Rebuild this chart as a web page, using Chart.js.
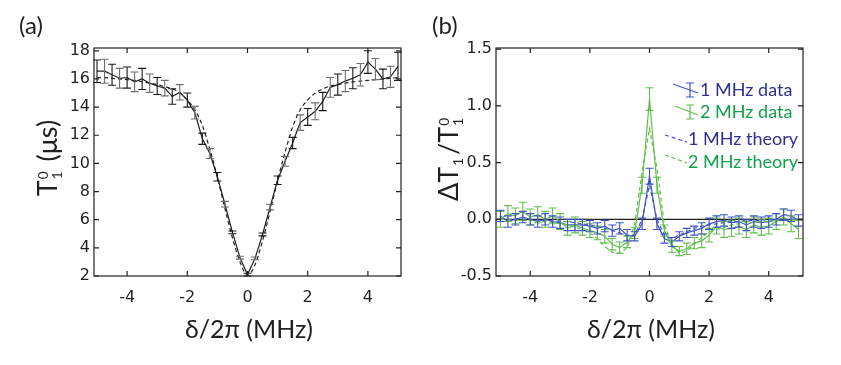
<!DOCTYPE html>
<html>
<head>
<meta charset="utf-8">
<script src="https://cdn.jsdelivr.net/npm/chart.js@4.4.1/dist/chart.umd.min.js"></script>
<style>
  body { margin: 0; background: #fff; width: 841px; height: 365px; position: relative; overflow: hidden; font-family: Lato, "Noto Sans", sans-serif; color: #231f20; }
  #boxA { position: absolute; left: 0; top: 0; width: 420px; height: 365px; }
  #boxB { position: absolute; left: 420px; top: 0; width: 421px; height: 365px; }
  .lbl { position: absolute; font-size: 24px; white-space: nowrap; }
  .xtitle { position: absolute; top: 313px; font-size: 25px; white-space: nowrap; transform: translateX(-50%); }
  .ytitle { position: absolute; font-size: 27px; white-space: nowrap; transform: translate(-50%, -50%) rotate(-90deg); }
  .ss { display: inline-block; vertical-align: -0.35em; font-size: 0.5em; line-height: 1.05; text-align: left; margin: 0 3px 0 1px; }
  .ss span { display: block; }
</style>
</head>
<body>
<div id="boxA"><canvas id="chartA"></canvas></div>
<div id="boxB"><canvas id="chartB"></canvas></div>

<div class="lbl" style="left:19px; top:10px">(a)</div>
<div class="lbl" style="left:432px; top:10px">(b)</div>
<div class="xtitle" style="left:249px">δ/2π (MHz)</div>
<div class="xtitle" style="left:651px">δ/2π (MHz)</div>
<div class="ytitle" style="left:47px; top:158px">T<span class="ss"><span>0</span><span>1</span></span> (μs)</div>
<div class="ytitle" style="left:448px; top:158px">ΔT<span class="ss"><span>&nbsp;</span><span>1</span></span>/T<span class="ss"><span>0</span><span>1</span></span></div>

<script>
// detuning grid (MHz), shared by both panels
var freq = [-5, -4.75, -4.5, -4.25, -4, -3.75, -3.5, -3.25, -3, -2.75, -2.5, -2.25, -2, -1.75, -1.5, -1.25, -1, -0.75, -0.5, -0.25,
            0, 0.25, 0.5, 0.75, 1, 1.25, 1.5, 1.75, 2, 2.25, 2.5, 2.75, 3, 3.25, 3.5, 3.75, 4, 4.25, 4.5, 4.75, 5];

// (a) T1^0 in us
var t1Data = [16.55, 16.55, 16.3, 16.05, 16.1, 15.8, 16.0, 15.7, 15.5, 15.35, 14.75, 15.05, 14.5, 13.6, 11.75, 10.7, 9.05, 7.1, 5.1, 3.3,
              2.1, 3.25, 4.95, 6.9, 8.8, 10.15, 11.45, 12.9, 13.3, 13.7, 14.4, 15.4, 15.6, 15.85, 16.05, 16.3, 17.2, 16.7, 16.0, 16.15, 16.9];
var t1Err = [0.8, 0.85, 0.75, 0.7, 0.75, 0.7, 0.75, 0.65, 0.6, 0.55, 0.55, 0.55, 0.5, 0.45, 0.4, 0.35, 0.3, 0.2, 0.1, 0.1,
             0.1, 0.1, 0.1, 0.2, 0.3, 0.35, 0.4, 0.55, 0.6, 0.6, 0.65, 0.7, 0.75, 0.75, 0.75, 0.8, 0.8, 0.75, 0.7, 0.75, 1.0];
var t1Theory = [16.1, 16.1, 16.05, 16.0, 15.95, 15.9, 15.8, 15.7, 15.6, 15.45, 15.3, 15.0, 14.5, 13.8, 12.7, 11.0, 9.0, 6.8, 4.7, 3.0,
                2.05, 2.8, 4.5, 6.6, 8.8, 10.8, 12.6, 13.8, 14.5, 15.0, 15.3, 15.5, 15.6, 15.7, 15.8, 15.85, 15.9, 15.95, 16.0, 16.05, 16.1];

// (b) relative change dT1/T1^0
var d1Data = [0.03, -0.02, 0.0, 0.02, 0.0, -0.02, 0.0, -0.02, -0.03, -0.05, -0.05, -0.05, -0.06, -0.08, -0.06, -0.1, -0.08, -0.14, -0.15, -0.04,
              0.38, -0.04, -0.17, -0.2, -0.15, -0.12, -0.1, -0.08, -0.04, -0.02, -0.01, -0.03, -0.02, -0.05, -0.02, -0.03, -0.02, 0.0, 0.04, 0.03, -0.01];
var d1Err = [0.05, 0.05, 0.05, 0.05, 0.05, 0.05, 0.05, 0.05, 0.05, 0.05, 0.05, 0.05, 0.05, 0.05, 0.05, 0.05, 0.05, 0.05, 0.04, 0.05,
             0.07, 0.05, 0.04, 0.04, 0.04, 0.04, 0.04, 0.05, 0.05, 0.05, 0.05, 0.05, 0.05, 0.05, 0.05, 0.05, 0.05, 0.05, 0.05, 0.05, 0.05];
var d2Data = [0.0, 0.05, 0.03, 0.07, 0.02, 0.04, 0.0, 0.03, -0.02, -0.08, -0.05, -0.08, -0.1, -0.12, -0.15, -0.22, -0.25, -0.2, -0.12, 0.3,
              1.06, 0.3, -0.1, -0.24, -0.28, -0.26, -0.21, -0.19, -0.14, -0.06, -0.09, -0.08, -0.06, -0.09, -0.05, -0.07, -0.06, -0.02, 0.02, -0.04, -0.09];
var d2Err = [0.07, 0.07, 0.07, 0.08, 0.07, 0.07, 0.07, 0.07, 0.07, 0.06, 0.07, 0.06, 0.06, 0.06, 0.06, 0.05, 0.05, 0.05, 0.05, 0.07,
             0.1, 0.07, 0.05, 0.05, 0.04, 0.05, 0.05, 0.06, 0.06, 0.07, 0.07, 0.07, 0.07, 0.07, 0.07, 0.07, 0.07, 0.07, 0.07, 0.07, 0.08];
var t1MHz = [0.0, 0.0, 0.0, 0.0, 0.0, -0.01, -0.01, -0.01, -0.02, -0.02, -0.03, -0.04, -0.05, -0.06, -0.08, -0.1, -0.12, -0.15, -0.14, 0.0,
             0.3, 0.0, -0.14, -0.17, -0.14, -0.11, -0.08, -0.06, -0.05, -0.04, -0.03, -0.02, -0.02, -0.01, -0.01, -0.01, 0.0, 0.0, 0.0, 0.0, 0.0];
var t2MHz = [0.0, 0.0, -0.01, -0.01, -0.01, -0.02, -0.02, -0.03, -0.04, -0.05, -0.07, -0.09, -0.12, -0.17, -0.24, -0.29, -0.3, -0.25, -0.05, 0.42,
             0.8, 0.45, -0.05, -0.22, -0.3, -0.28, -0.22, -0.16, -0.11, -0.09, -0.07, -0.05, -0.04, -0.03, -0.03, -0.02, -0.02, -0.01, -0.01, -0.01, 0.0];

var xTickVals = [-4, -2, 0, 2, 4];
var yTickValsA = [2, 4, 6, 8, 10, 12, 14, 16, 18];
var yTickValsB = [-0.5, 0.0, 0.5, 1.0, 1.5];

var BLUE = '#3e55c4';
var GREEN = '#62be4c';

function pts(ys) {
	return freq.map(function (f, i) { return { x: f, y: ys[i] }; });
}

// error bars, drawn through the chart's own scales
var errorBars = {
	id: 'errorBars',
	afterDatasetsDraw: function (chart) {
		var ctx = chart.ctx, xs = chart.scales.x, ys = chart.scales.y;
		ctx.save();
		ctx.lineWidth = 1.1;
		chart.data.datasets.forEach(function (ds) {
			if (!ds.errors) return;
			ds.data.forEach(function (p, j) {
				var px = xs.getPixelForValue(p.x);
				var top = ys.getPixelForValue(p.y + ds.errors[j]);
				var bot = ys.getPixelForValue(p.y - ds.errors[j]);
				ctx.strokeStyle = ds.errColors ? ds.errColors[j % ds.errColors.length] : ds.borderColor;
				ctx.beginPath();
				ctx.moveTo(px, top); ctx.lineTo(px, bot);
				ctx.moveTo(px - 4, top); ctx.lineTo(px + 4, top);
				ctx.moveTo(px - 4, bot); ctx.lineTo(px + 4, bot);
				ctx.stroke();
			});
		});
		ctx.restore();
	}
};

// box round the plot with inward ticks on all sides
var frame = {
	id: 'frame',
	afterDraw: function (chart) {
		var ctx = chart.ctx, a = chart.chartArea, xs = chart.scales.x, ys = chart.scales.y;
		ctx.save();
		ctx.strokeStyle = '#231f20';
		ctx.lineWidth = 1.2;
		ctx.strokeRect(a.left, a.top, a.right - a.left, a.bottom - a.top);
		ctx.beginPath();
		xs.ticks.forEach(function (t) {
			var px = xs.getPixelForValue(t.value);
			ctx.moveTo(px, a.bottom); ctx.lineTo(px, a.bottom - 5);
			ctx.moveTo(px, a.top); ctx.lineTo(px, a.top + 5);
		});
		ys.ticks.forEach(function (t) {
			var py = ys.getPixelForValue(t.value);
			ctx.moveTo(a.left, py); ctx.lineTo(a.left + 5, py);
			ctx.moveTo(a.right, py); ctx.lineTo(a.right - 5, py);
		});
		ctx.stroke();
		ctx.restore();
	}
};

var zeroLine = {
	id: 'zeroLine',
	beforeDatasetsDraw: function (chart) {
		var ctx = chart.ctx, a = chart.chartArea;
		var py = chart.scales.y.getPixelForValue(0);
		ctx.save();
		ctx.strokeStyle = '#231f20';
		ctx.lineWidth = 1.2;
		ctx.beginPath(); ctx.moveTo(a.left, py); ctx.lineTo(a.right, py); ctx.stroke();
		ctx.restore();
	}
};

var legendB = {
	id: 'legendB',
	afterDraw: function (chart) {
		var ctx = chart.ctx;
		var rows = [
			{ text: '1 MHz data', color: BLUE, textColor: '#2e3192', x0: 253, y0: 84, x1: 278, y1: 93, bar: true, tx: 280, ty: 90 },
			{ text: '2 MHz data', color: GREEN, textColor: '#12a14a', x0: 255, y0: 106, x1: 278, y1: 115, bar: true, tx: 280, ty: 112 },
			{ text: '1 MHz theory', color: BLUE, textColor: '#2e3192', x0: 245, y0: 135, x1: 267, y1: 142, bar: false, tx: 268, ty: 139 },
			{ text: '2 MHz theory', color: GREEN, textColor: '#12a14a', x0: 245, y0: 155, x1: 267, y1: 163, bar: false, tx: 268, ty: 162 }
		];
		ctx.save();
		ctx.font = '18px Lato, "Noto Sans", sans-serif';
		ctx.textBaseline = 'middle';
		rows.forEach(function (r) {
			ctx.strokeStyle = r.color;
			ctx.lineWidth = 1.2;
			ctx.setLineDash(r.bar ? [] : [4, 3]);
			ctx.beginPath(); ctx.moveTo(r.x0, r.y0); ctx.lineTo(r.x1, r.y1); ctx.stroke();
			ctx.setLineDash([]);
			if (r.bar) {
				var bx = 270, bt = r.ty - 7, bb = r.ty + 7;
				ctx.beginPath();
				ctx.moveTo(bx, bt); ctx.lineTo(bx, bb);
				ctx.moveTo(bx - 4, bt); ctx.lineTo(bx + 4, bt);
				ctx.moveTo(bx - 4, bb); ctx.lineTo(bx + 4, bb);
				ctx.stroke();
			}
			ctx.fillStyle = r.textColor;
			ctx.fillText(r.text, r.tx, r.ty);
		});
		ctx.restore();
	}
};

function baseOptions(xMin, xMax, yMin, yMax, yTicks, yWidth, padRight, yFmt) {
	return {
		responsive: true,
		maintainAspectRatio: false,
		animation: false,
		events: [],
		layout: { padding: { left: 0, right: padRight, top: 48, bottom: 0 } },
		plugins: { legend: { display: false }, tooltip: { enabled: false } },
		elements: { point: { radius: 0 } },
		scales: {
			x: {
				type: 'linear', min: xMin, max: xMax,
				grid: { display: false, drawTicks: false }, border: { display: false },
				afterBuildTicks: function (s) { s.ticks = xTickVals.map(function (v) { return { value: v }; }); },
				afterFit: function (s) { s.height = 89; },
				ticks: { color: '#231f20', padding: 12, font: { family: '"DejaVu Sans"', size: 16 } }
			},
			y: {
				type: 'linear', min: yMin, max: yMax,
				grid: { display: false, drawTicks: false }, border: { display: false },
				afterBuildTicks: function (s) { s.ticks = yTicks.map(function (v) { return { value: v }; }); },
				afterFit: function (s) { s.width = yWidth; },
				ticks: { color: '#231f20', padding: 4, font: { family: '"DejaVu Sans"', size: 16 }, callback: yFmt }
			}
		}
	};
}

new Chart(document.getElementById('chartA').getContext('2d'), {
	type: 'line',
	data: {
		datasets: [
			{ data: pts(t1Theory), borderColor: '#231f20', borderWidth: 1.2, borderDash: [4, 3], cubicInterpolationMode: 'monotone' },
			{ data: pts(t1Data), errors: t1Err, errColors: ['#1a1a1a', '#6e6e6e'], borderColor: '#231f20', borderWidth: 1.2, tension: 0 }
		]
	},
	options: baseOptions(-5.1, 5.1, 2, 18.2, yTickValsA, 94, 19, function (v) { return v; }),
	plugins: [errorBars, frame]
});

new Chart(document.getElementById('chartB').getContext('2d'), {
	type: 'line',
	data: {
		datasets: [
			{ data: pts(t2MHz), borderColor: GREEN, borderWidth: 1.2, borderDash: [4, 3], tension: 0 },
			{ data: pts(t1MHz), borderColor: BLUE, borderWidth: 1.2, borderDash: [4, 3], tension: 0 },
			{ data: pts(d2Data), errors: d2Err, borderColor: GREEN, borderWidth: 1.2, tension: 0 },
			{ data: pts(d1Data), errors: d1Err, borderColor: BLUE, borderWidth: 1.2, tension: 0 }
		]
	},
	options: baseOptions(-5.15, 5.15, -0.5, 1.51, yTickValsB, 76, 38, function (v) { return v.toFixed(1); }),
	plugins: [zeroLine, errorBars, frame, legendB]
});
</script>
</body>
</html>
